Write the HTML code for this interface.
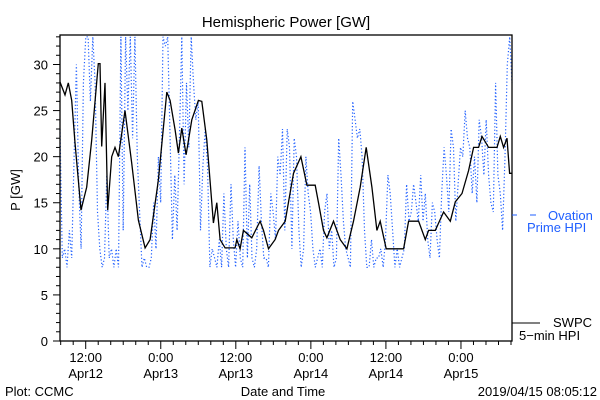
<!DOCTYPE html>
<html><head><meta charset="utf-8"><style>
body{margin:0;background:#fff}
svg{display:block;font-family:"Liberation Sans",sans-serif}
</style></head><body>
<svg id="chart" width="600" height="400" viewBox="0 0 600 400" xmlns="http://www.w3.org/2000/svg">
<rect width="600" height="400" fill="#fff"/>
<text x="286" y="27" font-size="15" text-anchor="middle">Hemispheric Power [GW]</text>
<text transform="translate(20,190) rotate(-90)" font-size="13" text-anchor="middle">P [GW]</text>
<g id="yticks"></g>
<g id="xticks"></g>
<g id="series"></g>
<rect x="60" y="35" width="452" height="306" fill="none" stroke="#000" stroke-width="1.3"/>
<line x1="512" y1="215" x2="517" y2="215" stroke="#1f5fff"/>
<line x1="530" y1="215" x2="536" y2="215" stroke="#1f5fff"/>
<text x="548" y="220" font-size="13" fill="#1f5fff">Ovation</text>
<text x="527" y="232" font-size="13" fill="#1f5fff">Prime HPI</text>
<line x1="512" y1="323" x2="540" y2="323" stroke="#000"/>
<text x="553" y="327" font-size="13">SWPC</text>
<text x="519" y="340" font-size="13">5−min HPI</text>
<text x="5" y="396" font-size="13">Plot: CCMC</text>
<text x="283" y="396" font-size="13" text-anchor="middle">Date and Time</text>
<text x="597" y="396" font-size="13" text-anchor="end">2019/04/15 08:05:12</text>
</svg>
<script>
// hours since 2019-04-12 00:00
const swpcHours=[7.89,8.69,9.22,9.76,10.29,10.82,11.25,12.16,12.96,14.02,14.29,14.56,15.09,15.52,16.16,16.69,17.22,18.29,19.36,20.42,21.49,22.29,23.62,24.96,25.49,26.29,26.82,27.36,28.05,28.96,30.02,30.56,31.36,32.16,32.42,32.96,33.49,34.29,35.89,36.16,36.69,37.22,38.56,39.89,40.42,41.22,42.29,42.82,43.89,45.22,46.4,47.36,48.69,49.22,50.02,50.56,51.62,52.69,53.76,54.82,55.89,56.85,57.76,58.56,59.09,60.05,62.82,63.62,65.22,66.29,66.82,67.89,69.22,70.29,71.09,72.16,73.22,74.02,74.82,75.36,76.42,77.76,78.29,78.82,79.36,79.78,80.16];
const swpcValues=[28.1,26.7,28,26.1,21.5,17.5,14.2,16.7,21.8,30.1,30.1,21.1,28,14.2,20,21,20,25,19.3,13.1,10.1,11,17.5,27,26.1,22.9,20.4,23.1,20.2,24,26.1,26,21.8,15,12.8,15,11,10.1,10.1,11,10,12,11.2,13,12,10,11,12,13,18.2,20,16.9,16.9,15,12,11.2,13,11,10,13,16.7,21,16.7,12,13,10,10,13,13,11,12,12,14,13,15.1,16,18.5,21,21,22.2,21,21,22.2,21,22,18.2,18.2];
const ovationStart=7.89, ovationEnd=80.16;
const ovationValues=[23,9,10,8,12,9,20,30,17,10,28,33,33,26,33,28,14,10,8,9,18,9,10,8,10,8,33,12,33,25,33,22,33,20,14,8,9,8,8,9,15,10,20,15,33,32,33,22,11,18,12,22,33,17,28,21,33,28,24,26,12,19,23,19,8,10,9,8,11,8,16,10,8,17,11,8,13,9,8,21,9,17,9,8,10,19,13,9,9,8,16,14,11,20,18,23,12,23,21,10,22,20,12,8,10,20,16,14,10,8,9,10,8,14,16,10,12,8,9,22,18,13,10,9,8,26,24,22,23,20,12,8,8,11,8,9,9,10,8,11,18,16,12,8,10,8,9,10,17,13,14,17,15,13,18,13,16,11,9,15,14,11,9,16,21,18,14,23,21,13,17,21,20,25,22,21,16,20,15,24,22,18,24,18,15,14,28,18,16,12,20,30,33,28];
const yTickLabels=["0","5","10","15","20","25","30"];
const xTickLabels=[["12:00","Apr12",12],["0:00","Apr13",24],["12:00","Apr13",36],["0:00","Apr14",48],["12:00","Apr14",60],["0:00","Apr15",72]];

const X0=60,X1=512,Y0=341,Y1=35;
const tMin=7.89,tMax=80.16,vMax=33.2;
const xs=t=>X0+(t-tMin)/(tMax-tMin)*(X1-X0);
const ys=v=>Y0-Math.min(v,vMax)/vMax*(Y0-Y1);
const NS="http://www.w3.org/2000/svg";
function mk(tag,attrs,parent){const e=document.createElementNS(NS,tag);for(const k in attrs)e.setAttribute(k,attrs[k]);parent.appendChild(e);return e;}
const yg=document.getElementById('yticks'),xg=document.getElementById('xticks'),sg=document.getElementById('series');
for(let v=0;v<=33;v++){
  const y=ys(v);const major=v%5===0;
  const l=mk('line',{x1:major?53:56,x2:X0,y1:y,y2:y,stroke:'#000'},yg);
  
  
}
yTickLabels.forEach(s=>{
  const t=mk('text',{x:48,y:ys(+s)+5,'font-size':13,'text-anchor':'end'},yg);t.textContent=s;
  
  
});
for(let h=8;h<=80;h+=2){
  const x=xs(h);const major=h%12===0;
  const l=mk('line',{x1:x,x2:x,y1:Y0,y2:Y0+(major?8:4),stroke:'#000'},xg);
  
  
}
xTickLabels.forEach(([a,b,h])=>{
  const t1=mk('text',{x:xs(h),y:362,'font-size':13,'text-anchor':'middle'},xg);t1.textContent=a;
  
  
  const t2=mk('text',{x:xs(h),y:378,'font-size':13,'text-anchor':'middle'},xg);t2.textContent=b;
  
  
});
const n=ovationValues.length;
const bp=ovationValues.map((v,i)=>xs(ovationStart+i*(ovationEnd-ovationStart)/(n-1)).toFixed(1)+','+ys(v).toFixed(1)).join(' ');
const bl=mk('polyline',{points:bp,fill:'none',stroke:'#1f5fff','stroke-width':1.2,'stroke-dasharray':'1.2 2.2'},sg);


const kp=swpcHours.map((t,i)=>xs(t).toFixed(1)+','+ys(swpcValues[i]).toFixed(1)).join(' ');
const kl=mk('polyline',{points:kp,fill:'none',stroke:'#000','stroke-width':1.3},sg);


</script>
</body></html>
